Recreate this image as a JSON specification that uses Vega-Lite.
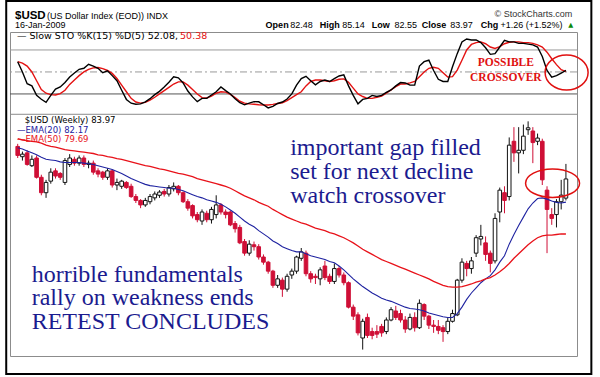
{
"$schema": "https://vega.github.io/schema/vega-lite/v6.json",
"width": 567, "height": 324,
"autosize": {"type": "none"},
"padding": {"left": 10, "top": 32, "right": 23, "bottom": 21},
"background": "white",
"config": {"view": {"stroke": "#8c8c8c", "strokeWidth": 1}, "axis": {"labelFont": "DejaVu Sans", "labelFontSize": 8.5, "labelColor": "#111", "domain": false}},
"data": {"values": [
{"d":"2006-10-23","o":86.5,"h":86.7,"l":85.6,"c":85.8,"e20":86.4,"e50":87.1,"k":64,"sd":64},
{"d":"2006-10-30","o":85.7,"h":86.1,"l":85.4,"c":85.9,"e20":86.3,"e50":87.0,"k":50,"sd":62},
{"d":"2006-11-06","o":86.0,"h":86.2,"l":85.0,"c":85.1,"e20":86.15,"e50":86.95,"k":34,"sd":58},
{"d":"2006-11-13","o":85.0,"h":85.8,"l":84.9,"c":85.5,"e20":86.0,"e50":86.9,"k":31,"sd":50},
{"d":"2006-11-20","o":85.6,"h":85.8,"l":84.0,"c":84.1,"e20":85.85,"e50":86.85,"k":18,"sd":38},
{"d":"2006-11-27","o":84.1,"h":84.3,"l":82.7,"c":82.9,"e20":85.65,"e50":86.75,"k":12.7,"sd":26},
{"d":"2006-12-04","o":82.9,"h":83.9,"l":82.5,"c":83.7,"e20":85.5,"e50":86.6,"k":8.6,"sd":21},
{"d":"2006-12-11","o":83.8,"h":84.8,"l":83.6,"c":84.5,"e20":85.45,"e50":86.5,"k":18,"sd":19},
{"d":"2006-12-18","o":84.6,"h":84.8,"l":84.0,"c":84.2,"e20":85.4,"e50":86.45,"k":26.5,"sd":18.6},
{"d":"2006-12-25","o":84.4,"h":84.5,"l":83.9,"c":84.1,"e20":85.3,"e50":86.35,"k":29.5,"sd":20.5},
{"d":"2007-01-01","o":83.7,"h":85.6,"l":83.5,"c":85.4,"e20":85.25,"e50":86.25,"k":35.5,"sd":25},
{"d":"2007-01-08","o":85.1,"h":85.9,"l":84.9,"c":85.6,"e20":85.25,"e50":86.2,"k":43,"sd":33},
{"d":"2007-01-15","o":85.5,"h":85.7,"l":85.0,"c":85.2,"e20":85.25,"e50":86.15,"k":48.5,"sd":39},
{"d":"2007-01-22","o":85.2,"h":85.8,"l":85.0,"c":85.6,"e20":85.25,"e50":86.1,"k":53.6,"sd":45},
{"d":"2007-01-29","o":85.6,"h":85.8,"l":84.9,"c":85.1,"e20":85.2,"e50":86.05,"k":55,"sd":50},
{"d":"2007-02-05","o":85.1,"h":85.4,"l":84.8,"c":85.2,"e20":85.15,"e50":86.0,"k":60.5,"sd":53.5},
{"d":"2007-02-12","o":85.2,"h":85.4,"l":84.3,"c":84.5,"e20":85.1,"e50":85.95,"k":58,"sd":55.5},
{"d":"2007-02-19","o":84.6,"h":84.8,"l":84.1,"c":84.35,"e20":85.0,"e50":85.85,"k":55,"sd":56},
{"d":"2007-02-26","o":84.5,"h":84.6,"l":83.9,"c":84.1,"e20":84.9,"e50":85.8,"k":49,"sd":54.5},
{"d":"2007-03-05","o":84.1,"h":84.8,"l":83.9,"c":84.6,"e20":84.8,"e50":85.7,"k":51.5,"sd":52},
{"d":"2007-03-12","o":84.6,"h":84.7,"l":83.3,"c":83.5,"e20":84.7,"e50":85.65,"k":45,"sd":48},
{"d":"2007-03-19","o":83.5,"h":84.0,"l":83.1,"c":83.7,"e20":84.55,"e50":85.55,"k":38,"sd":41},
{"d":"2007-03-26","o":83.4,"h":83.9,"l":83.2,"c":83.8,"e20":84.4,"e50":85.5,"k":25,"sd":32},
{"d":"2007-04-02","o":83.7,"h":83.8,"l":83.2,"c":83.3,"e20":84.2,"e50":85.4,"k":12.5,"sd":23},
{"d":"2007-04-09","o":83.4,"h":83.6,"l":82.5,"c":82.6,"e20":84.0,"e50":85.3,"k":7.4,"sd":14},
{"d":"2007-04-16","o":82.6,"h":82.8,"l":82.1,"c":82.3,"e20":83.85,"e50":85.2,"k":6,"sd":9},
{"d":"2007-04-23","o":82.3,"h":82.4,"l":81.7,"c":81.95,"e20":83.7,"e50":85.1,"k":6.4,"sd":7.5},
{"d":"2007-04-30","o":81.95,"h":82.5,"l":81.8,"c":82.3,"e20":83.55,"e50":85.0,"k":9.3,"sd":8.5},
{"d":"2007-05-07","o":82.2,"h":82.8,"l":82.0,"c":82.6,"e20":83.45,"e50":84.95,"k":13.5,"sd":11.5},
{"d":"2007-05-14","o":82.5,"h":83.0,"l":82.3,"c":82.8,"e20":83.4,"e50":84.85,"k":19,"sd":15.5},
{"d":"2007-05-21","o":82.7,"h":83.1,"l":82.5,"c":82.95,"e20":83.35,"e50":84.75,"k":23.5,"sd":20},
{"d":"2007-05-28","o":83.0,"h":83.2,"l":82.6,"c":82.8,"e20":83.3,"e50":84.7,"k":29.5,"sd":24.5},
{"d":"2007-06-04","o":82.8,"h":83.5,"l":82.6,"c":83.3,"e20":83.25,"e50":84.6,"k":36,"sd":29},
{"d":"2007-06-11","o":83.2,"h":83.7,"l":83.0,"c":83.4,"e20":83.25,"e50":84.5,"k":43.5,"sd":33.5},
{"d":"2007-06-18","o":83.4,"h":83.5,"l":82.7,"c":82.9,"e20":83.15,"e50":84.4,"k":42,"sd":36.5},
{"d":"2007-06-25","o":82.9,"h":83.0,"l":82.1,"c":82.2,"e20":83.05,"e50":84.35,"k":35,"sd":36.5},
{"d":"2007-07-02","o":82.2,"h":82.4,"l":81.5,"c":81.7,"e20":82.9,"e50":84.25,"k":24,"sd":32},
{"d":"2007-07-09","o":81.9,"h":82.0,"l":80.9,"c":81.1,"e20":82.75,"e50":84.15,"k":16,"sd":26},
{"d":"2007-07-16","o":81.2,"h":81.4,"l":80.6,"c":80.8,"e20":82.6,"e50":84.0,"k":9.5,"sd":20},
{"d":"2007-07-23","o":80.7,"h":81.6,"l":80.4,"c":81.4,"e20":82.5,"e50":83.9,"k":14,"sd":15},
{"d":"2007-07-30","o":81.3,"h":81.5,"l":80.6,"c":80.8,"e20":82.35,"e50":83.8,"k":14,"sd":14.5},
{"d":"2007-08-06","o":80.8,"h":81.8,"l":80.5,"c":81.6,"e20":82.25,"e50":83.7,"k":18.5,"sd":17},
{"d":"2007-08-13","o":81.2,"h":82.7,"l":80.9,"c":81.95,"e20":82.15,"e50":83.6,"k":23,"sd":21},
{"d":"2007-08-20","o":81.95,"h":82.1,"l":81.2,"c":81.4,"e20":82.0,"e50":83.5,"k":29.5,"sd":23},
{"d":"2007-08-27","o":81.4,"h":81.6,"l":80.9,"c":81.2,"e20":81.8,"e50":83.4,"k":24.5,"sd":22.5},
{"d":"2007-09-03","o":81.4,"h":81.5,"l":80.3,"c":80.4,"e20":81.55,"e50":83.25,"k":20,"sd":19.5},
{"d":"2007-09-10","o":80.5,"h":80.7,"l":79.8,"c":80.1,"e20":81.3,"e50":83.05,"k":13.5,"sd":15},
{"d":"2007-09-17","o":80.2,"h":80.4,"l":78.9,"c":79.0,"e20":81.0,"e50":82.85,"k":8,"sd":10},
{"d":"2007-09-24","o":79.1,"h":79.3,"l":78.0,"c":78.2,"e20":80.7,"e50":82.65,"k":5.2,"sd":7.5},
{"d":"2007-10-01","o":78.2,"h":79.2,"l":78.0,"c":78.9,"e20":80.45,"e50":82.5,"k":7.5,"sd":6.4},
{"d":"2007-10-08","o":78.85,"h":79.1,"l":78.4,"c":78.7,"e20":80.25,"e50":82.35,"k":9.5,"sd":6},
{"d":"2007-10-15","o":78.7,"h":78.9,"l":77.7,"c":77.9,"e20":79.95,"e50":82.15,"k":9.3,"sd":5.2},
{"d":"2007-10-22","o":77.9,"h":78.1,"l":77.3,"c":77.5,"e20":79.7,"e50":82.0,"k":5.3,"sd":5},
{"d":"2007-10-29","o":77.5,"h":77.6,"l":76.6,"c":76.8,"e20":79.45,"e50":81.85,"k":1,"sd":5},
{"d":"2007-11-05","o":76.8,"h":76.9,"l":75.5,"c":75.7,"e20":79.15,"e50":81.6,"k":3,"sd":5.8},
{"d":"2007-11-12","o":75.7,"h":76.5,"l":75.5,"c":76.2,"e20":78.95,"e50":81.4,"k":7,"sd":7},
{"d":"2007-11-19","o":76.1,"h":76.3,"l":74.8,"c":75.4,"e20":78.7,"e50":81.2,"k":9,"sd":8},
{"d":"2007-11-26","o":75.4,"h":76.6,"l":75.2,"c":76.4,"e20":78.55,"e50":81.0,"k":13,"sd":11},
{"d":"2007-12-03","o":76.5,"h":77.0,"l":76.2,"c":76.8,"e20":78.4,"e50":80.85,"k":20,"sd":15},
{"d":"2007-12-10","o":76.8,"h":78.0,"l":76.6,"c":77.9,"e20":78.3,"e50":80.7,"k":32,"sd":19},
{"d":"2007-12-17","o":77.8,"h":78.6,"l":77.6,"c":78.3,"e20":78.3,"e50":80.55,"k":41,"sd":23},
{"d":"2007-12-24","o":78.2,"h":78.4,"l":76.4,"c":76.6,"e20":78.15,"e50":80.45,"k":44,"sd":31},
{"d":"2007-12-31","o":76.6,"h":76.8,"l":75.9,"c":76.2,"e20":78.0,"e50":80.3,"k":38,"sd":37},
{"d":"2008-01-07","o":76.4,"h":76.6,"l":75.8,"c":76.3,"e20":77.9,"e50":80.15,"k":32.5,"sd":39},
{"d":"2008-01-14","o":76.2,"h":77.1,"l":75.7,"c":76.9,"e20":77.8,"e50":80.05,"k":37,"sd":39},
{"d":"2008-01-21","o":77.2,"h":77.6,"l":76.1,"c":76.3,"e20":77.7,"e50":79.95,"k":39,"sd":38},
{"d":"2008-01-28","o":76.4,"h":76.6,"l":75.8,"c":76.0,"e20":77.55,"e50":79.8,"k":37,"sd":37},
{"d":"2008-02-04","o":76.0,"h":77.4,"l":75.8,"c":77.0,"e20":77.45,"e50":79.7,"k":41,"sd":38},
{"d":"2008-02-11","o":77.0,"h":77.2,"l":76.3,"c":76.5,"e20":77.2,"e50":79.55,"k":44.5,"sd":40},
{"d":"2008-02-18","o":76.5,"h":76.7,"l":75.7,"c":75.9,"e20":76.9,"e50":79.4,"k":46,"sd":40.5},
{"d":"2008-02-25","o":75.9,"h":76.0,"l":73.9,"c":74.0,"e20":76.55,"e50":79.2,"k":31,"sd":36},
{"d":"2008-03-03","o":74.0,"h":74.2,"l":73.0,"c":73.3,"e20":76.2,"e50":79.0,"k":18,"sd":28},
{"d":"2008-03-10","o":73.4,"h":73.6,"l":71.8,"c":72.0,"e20":75.9,"e50":78.75,"k":6.5,"sd":20},
{"d":"2008-03-17","o":71.6,"h":73.1,"l":70.7,"c":72.9,"e20":75.6,"e50":78.5,"k":12.5,"sd":16.5},
{"d":"2008-03-24","o":73.2,"h":73.5,"l":71.6,"c":71.8,"e20":75.35,"e50":78.3,"k":14,"sd":14},
{"d":"2008-03-31","o":72.1,"h":72.4,"l":71.5,"c":71.8,"e20":75.1,"e50":78.1,"k":18,"sd":14},
{"d":"2008-04-07","o":72.1,"h":72.6,"l":71.6,"c":71.9,"e20":74.9,"e50":77.9,"k":16.5,"sd":15.5},
{"d":"2008-04-14","o":72.5,"h":72.7,"l":71.7,"c":72.0,"e20":74.7,"e50":77.7,"k":18,"sd":17},
{"d":"2008-04-21","o":72.1,"h":73.2,"l":71.9,"c":73.0,"e20":74.55,"e50":77.55,"k":22,"sd":21},
{"d":"2008-04-28","o":73.0,"h":74.0,"l":72.9,"c":73.8,"e20":74.45,"e50":77.4,"k":25.5,"sd":25.5},
{"d":"2008-05-05","o":73.7,"h":74.1,"l":73.0,"c":73.2,"e20":74.3,"e50":77.25,"k":31,"sd":30},
{"d":"2008-05-12","o":73.5,"h":73.8,"l":72.8,"c":73.0,"e20":74.15,"e50":77.1,"k":35.5,"sd":33.5},
{"d":"2008-05-19","o":73.0,"h":73.3,"l":72.0,"c":72.3,"e20":74.0,"e50":76.95,"k":35,"sd":33.6},
{"d":"2008-05-26","o":72.3,"h":73.5,"l":72.2,"c":73.2,"e20":73.9,"e50":76.8,"k":32,"sd":35},
{"d":"2008-06-02","o":73.2,"h":73.6,"l":72.1,"c":72.4,"e20":73.85,"e50":76.65,"k":32,"sd":37},
{"d":"2008-06-09","o":72.4,"h":74.6,"l":72.3,"c":74.3,"e20":73.8,"e50":76.5,"k":58,"sd":43.6},
{"d":"2008-06-16","o":74.2,"h":74.3,"l":73.0,"c":73.3,"e20":73.7,"e50":76.35,"k":64,"sd":50},
{"d":"2008-06-23","o":73.3,"h":73.4,"l":72.3,"c":72.6,"e20":73.55,"e50":76.2,"k":66,"sd":55},
{"d":"2008-06-30","o":72.6,"h":73.0,"l":72.0,"c":72.5,"e20":73.45,"e50":76.0,"k":52,"sd":56.4},
{"d":"2008-07-07","o":72.5,"h":73.0,"l":71.9,"c":72.2,"e20":73.35,"e50":75.85,"k":40,"sd":55},
{"d":"2008-07-14","o":72.4,"h":72.6,"l":71.3,"c":72.1,"e20":73.25,"e50":75.7,"k":37,"sd":49},
{"d":"2008-07-21","o":72.1,"h":73.2,"l":71.9,"c":72.9,"e20":73.2,"e50":75.6,"k":37,"sd":43},
{"d":"2008-07-28","o":72.9,"h":73.8,"l":72.8,"c":73.5,"e20":73.2,"e50":75.55,"k":57,"sd":43.6},
{"d":"2008-08-04","o":73.4,"h":76.2,"l":73.3,"c":76.1,"e20":73.5,"e50":75.55,"k":75,"sd":52.5},
{"d":"2008-08-11","o":76.1,"h":77.8,"l":75.9,"c":77.5,"e20":74.0,"e50":75.6,"k":91,"sd":66},
{"d":"2008-08-18","o":77.4,"h":77.6,"l":76.4,"c":77.0,"e20":74.6,"e50":75.7,"k":95,"sd":80},
{"d":"2008-08-25","o":77.0,"h":77.9,"l":76.6,"c":77.6,"e20":75.1,"e50":75.8,"k":93.6,"sd":87.5},
{"d":"2008-09-01","o":78.2,"h":79.6,"l":77.9,"c":79.4,"e20":75.5,"e50":75.95,"k":93.6,"sd":90},
{"d":"2008-09-08","o":79.3,"h":80.4,"l":78.8,"c":79.5,"e20":75.9,"e50":76.05,"k":90,"sd":91},
{"d":"2008-09-15","o":79.0,"h":79.5,"l":77.6,"c":78.1,"e20":76.2,"e50":76.2,"k":83,"sd":88.5},
{"d":"2008-09-22","o":78.2,"h":78.4,"l":76.7,"c":77.4,"e20":76.45,"e50":76.3,"k":74,"sd":84},
{"d":"2008-09-29","o":77.6,"h":81.3,"l":77.4,"c":80.9,"e20":76.9,"e50":76.5,"k":75,"sd":82},
{"d":"2008-10-06","o":81.4,"h":83.3,"l":80.6,"c":83.1,"e20":77.5,"e50":76.75,"k":84,"sd":84.5},
{"d":"2008-10-13","o":82.9,"h":83.4,"l":81.3,"c":82.3,"e20":78.0,"e50":77.05,"k":93,"sd":88.5},
{"d":"2008-10-20","o":82.6,"h":87.2,"l":82.3,"c":86.6,"e20":78.9,"e50":77.4,"k":91,"sd":90.5},
{"d":"2008-10-27","o":86.9,"h":88.0,"l":85.3,"c":86.0,"e20":79.65,"e50":77.8,"k":91,"sd":91},
{"d":"2008-11-03","o":86.0,"h":88.0,"l":84.4,"c":86.2,"e20":80.35,"e50":78.15,"k":89,"sd":91},
{"d":"2008-11-10","o":86.2,"h":88.2,"l":85.9,"c":87.3,"e20":81.0,"e50":78.5,"k":89,"sd":90},
{"d":"2008-11-17","o":87.8,"h":88.45,"l":87.4,"c":87.95,"e20":81.65,"e50":78.85,"k":88,"sd":90},
{"d":"2008-11-24","o":87.7,"h":88.0,"l":85.2,"c":86.8,"e20":82.1,"e50":79.15,"k":87,"sd":89},
{"d":"2008-12-01","o":86.9,"h":87.5,"l":86.6,"c":87.15,"e20":82.45,"e50":79.4,"k":84,"sd":87},
{"d":"2008-12-08","o":86.9,"h":87.1,"l":83.5,"c":83.9,"e20":82.5,"e50":79.55,"k":71,"sd":84},
{"d":"2008-12-15","o":83.1,"h":83.4,"l":78.2,"c":81.6,"e20":82.4,"e50":79.6,"k":52,"sd":77},
{"d":"2008-12-22","o":81.2,"h":81.7,"l":80.4,"c":80.9,"e20":82.25,"e50":79.6,"k":43,"sd":68},
{"d":"2008-12-29","o":81.2,"h":82.4,"l":80.2,"c":82.2,"e20":82.15,"e50":79.65,"k":45,"sd":60},
{"d":"2009-01-05","o":82.2,"h":83.9,"l":81.6,"c":82.71,"e20":82.1,"e50":79.7,"k":48.5,"sd":53},
{"d":"2009-01-12","o":82.48,"h":85.14,"l":82.3,"c":83.97,"e20":82.17,"e50":79.69,"k":52.08,"sd":50.38}
]},
"layer": [
{"layer": [
 {"data": {"values": [{}]}, "mark": {"type": "rect", "filled": false, "color": "black", "strokeWidth": 2},
  "encoding": {"x": {"datum": {"year":2006,"month":10,"date":6}, "type": "temporal", "scale": {"domain": [{"year":2006,"month":10,"date":19},{"year":2009,"month":1,"date":21}]}, "axis": null},
   "x2": {"datum": {"year":2009,"month":2,"date":18,"hours":16}},
   "y": {"datum": 146.8, "type": "quantitative", "scale": {"domain": [-337.5, 104.5], "zero": false, "nice": false}, "axis": null},
   "y2": {"datum": -362}}},
 {"data": {"values": [{"lv": 80}, {"lv": 50}, {"lv": 20}]}, "mark": {"type": "rule", "strokeWidth": 1},
  "encoding": {"y": {"field": "lv", "type": "quantitative", "scale": {"domain": [-337.5, 104.5], "zero": false, "nice": false}, "axis": null},
   "color": {"condition": {"test": "datum.lv == 20", "value": "#555555"}, "value": "#9a9a9a"},
   "strokeDash": {"condition": {"test": "datum.lv == 50", "value": [7, 3, 2, 3]}, "value": [1, 0]}}},
 {"mark": {"type": "line", "color": "#e41212", "strokeWidth": 1.4},
  "encoding": {"x": {"field": "d", "type": "temporal", "scale": {"domain": [{"year":2006,"month":10,"date":19},{"year":2009,"month":1,"date":21}]}, "axis": null},
   "y": {"field": "sd", "type": "quantitative", "scale": {"domain": [-337.5, 104.5], "zero": false, "nice": false}, "axis": null}}},
 {"mark": {"type": "line", "color": "black", "strokeWidth": 1.4},
  "encoding": {"x": {"field": "d", "type": "temporal", "scale": {"domain": [{"year":2006,"month":10,"date":19},{"year":2009,"month":1,"date":21}]}, "axis": null},
   "y": {"field": "k", "type": "quantitative", "scale": {"domain": [-337.5, 104.5], "zero": false, "nice": false},
    "axis": {"orient": "right", "values": [20, 50, 80], "grid": false, "ticks": false, "labelPadding": 4, "domain": false, "title": null}}}},
 {"data": {"values": [{}]}, "mark": {"type": "point", "shape": "M -1 0 C -1 -0.447 -0.552 -0.81 0 -0.81 C 0.552 -0.81 1 -0.447 1 0 C 1 0.447 0.552 0.81 0 0.81 C -0.552 0.81 -1 0.447 -1 0 Z", "size": 1849, "filled": false, "color": "#e01010", "strokeWidth": 1.5, "opacity": 1},
  "encoding": {"x": {"datum": {"year":2009,"month":1,"date":13}, "type": "temporal", "axis": null},
   "y": {"datum": 49.25, "type": "quantitative", "axis": null}}},
 {"data": {"values": [{}]}, "mark": {"type": "text", "text": ["POSSIBLE", "CROSSOVER"], "font": "Liberation Serif", "fontSize": 11.5, "fontWeight": "bold", "color": "#e01010", "align": "center", "baseline": "alphabetic", "lineHeight": 14.5},
  "encoding": {"x": {"datum": {"year":2008,"month":10,"date":15}, "type": "temporal", "axis": null},
   "y": {"datum": 58.1, "type": "quantitative", "axis": null}}},
 {"data": {"values": [{}]}, "mark": {"type": "text", "text": "$USD", "font": "Liberation Sans", "fontSize": 11.5, "fontWeight": "bold", "color": "black", "align": "left", "baseline": "alphabetic"},
  "encoding": {"x": {"datum": {"year":2006,"month":10,"date":19}, "type": "temporal", "axis": null},
   "y": {"datum": 122.2, "type": "quantitative", "axis": null}}},
 {"data": {"values": [{}]}, "mark": {"type": "text", "text": "(US Dollar Index (EOD)) INDX", "font": "Liberation Sans", "fontSize": 9, "color": "black", "align": "left", "baseline": "alphabetic"},
  "encoding": {"x": {"datum": {"year":2006,"month":12,"date":5,"hours":12}, "type": "temporal", "axis": null},
   "y": {"datum": 122.2, "type": "quantitative", "axis": null}}},
 {"data": {"values": [{}]}, "mark": {"type": "text", "text": "16-Jan-2009", "font": "Liberation Sans", "fontSize": 9, "color": "black", "align": "left", "baseline": "alphabetic"},
  "encoding": {"x": {"datum": {"year":2006,"month":10,"date":19}, "type": "temporal", "axis": null},
   "y": {"datum": 109.96, "type": "quantitative", "axis": null}}},
 {"data": {"values": [{}]}, "mark": {"type": "text", "text": "© StockCharts.com", "font": "Liberation Sans", "fontSize": 9, "color": "#333333", "align": "right", "baseline": "alphabetic"},
  "encoding": {"x": {"datum": {"year":2009,"month":1,"date":21,"hours":7}, "type": "temporal", "axis": null},
   "y": {"datum": 124.96, "type": "quantitative", "axis": null}}},
 {"data": {"values": [{}]}, "mark": {"type": "text", "text": "Open", "font": "Liberation Sans", "fontSize": 9, "fontWeight": "bold", "color": "black", "align": "left", "baseline": "alphabetic"},
  "encoding": {"x": {"datum": {"year":2007,"month":10,"date":25,"hours":5}, "type": "temporal", "axis": null}, "y": {"datum": 109.96, "type": "quantitative", "axis": null}}},
 {"data": {"values": [{}]}, "mark": {"type": "text", "text": "82.48", "font": "Liberation Sans", "fontSize": 9, "color": "black", "align": "left", "baseline": "alphabetic"},
  "encoding": {"x": {"datum": {"year":2007,"month":11,"date":30,"hours":14}, "type": "temporal", "axis": null}, "y": {"datum": 109.96, "type": "quantitative", "axis": null}}},
 {"data": {"values": [{}]}, "mark": {"type": "text", "text": "High", "font": "Liberation Sans", "fontSize": 9, "fontWeight": "bold", "color": "black", "align": "left", "baseline": "alphabetic"},
  "encoding": {"x": {"datum": {"year":2008,"month":1,"date":13,"hours":5}, "type": "temporal", "axis": null}, "y": {"datum": 109.96, "type": "quantitative", "axis": null}}},
 {"data": {"values": [{}]}, "mark": {"type": "text", "text": "85.14", "font": "Liberation Sans", "fontSize": 9, "color": "black", "align": "left", "baseline": "alphabetic"},
  "encoding": {"x": {"datum": {"year":2008,"month":2,"date":15,"hours":17}, "type": "temporal", "axis": null}, "y": {"datum": 109.96, "type": "quantitative", "axis": null}}},
 {"data": {"values": [{}]}, "mark": {"type": "text", "text": "Low", "font": "Liberation Sans", "fontSize": 9, "fontWeight": "bold", "color": "black", "align": "left", "baseline": "alphabetic"},
  "encoding": {"x": {"datum": {"year":2008,"month":3,"date":30,"hours":10}, "type": "temporal", "axis": null}, "y": {"datum": 109.96, "type": "quantitative", "axis": null}}},
 {"data": {"values": [{}]}, "mark": {"type": "text", "text": "82.55", "font": "Liberation Sans", "fontSize": 9, "color": "black", "align": "left", "baseline": "alphabetic"},
  "encoding": {"x": {"datum": {"year":2008,"month":5,"date":2,"hours":22}, "type": "temporal", "axis": null}, "y": {"datum": 109.96, "type": "quantitative", "axis": null}}},
 {"data": {"values": [{}]}, "mark": {"type": "text", "text": "Close", "font": "Liberation Sans", "fontSize": 9, "fontWeight": "bold", "color": "black", "align": "left", "baseline": "alphabetic"},
  "encoding": {"x": {"datum": {"year":2008,"month":6,"date":12,"hours":14}, "type": "temporal", "axis": null}, "y": {"datum": 109.96, "type": "quantitative", "axis": null}}},
 {"data": {"values": [{}]}, "mark": {"type": "text", "text": "83.97", "font": "Liberation Sans", "fontSize": 9, "color": "black", "align": "left", "baseline": "alphabetic"},
  "encoding": {"x": {"datum": {"year":2008,"month":7,"date":24,"hours":19}, "type": "temporal", "axis": null}, "y": {"datum": 109.96, "type": "quantitative", "axis": null}}},
 {"data": {"values": [{}]}, "mark": {"type": "text", "text": "Chg", "font": "Liberation Sans", "fontSize": 9, "fontWeight": "bold", "color": "black", "align": "left", "baseline": "alphabetic"},
  "encoding": {"x": {"datum": {"year":2008,"month":9,"date":7,"hours":23}, "type": "temporal", "axis": null}, "y": {"datum": 109.96, "type": "quantitative", "axis": null}}},
 {"data": {"values": [{}]}, "mark": {"type": "text", "text": "+1.26 (+1.52%)", "font": "Liberation Sans", "fontSize": 9, "color": "black", "align": "left", "baseline": "alphabetic"},
  "encoding": {"x": {"datum": {"year":2008,"month":10,"date":7,"hours":2}, "type": "temporal", "axis": null}, "y": {"datum": 109.96, "type": "quantitative", "axis": null}}},
 {"data": {"values": [{}]}, "mark": {"type": "text", "text": "▲", "font": "DejaVu Sans", "fontSize": 6.5, "color": "#0a8a0a", "align": "left", "baseline": "alphabetic"},
  "encoding": {"x": {"datum": {"year":2009,"month":1,"date":15,"hours":12}, "type": "temporal", "axis": null}, "y": {"datum": 111.3, "type": "quantitative", "axis": null}}},
 {"data": {"values": [{}]}, "mark": {"type": "text", "text": "— Slow STO %K(15) %D(5) 52.08,", "font": "DejaVu Sans", "fontSize": 9.5, "color": "black", "align": "left", "baseline": "alphabetic"},
  "encoding": {"x": {"datum": {"year":2006,"month":10,"date":22}, "type": "temporal", "axis": null}, "y": {"datum": 94.95, "type": "quantitative", "axis": null}}},
 {"data": {"values": [{}]}, "mark": {"type": "text", "text": "50.38", "font": "DejaVu Sans", "fontSize": 9.5, "color": "#e41212", "align": "left", "baseline": "alphabetic"},
  "encoding": {"x": {"datum": {"year":2007,"month":6,"date":20,"hours":12}, "type": "temporal", "axis": null}, "y": {"datum": 94.95, "type": "quantitative", "axis": null}}}
]},
{"layer": [
 {"data": {"values": [{}]}, "mark": {"type": "rule", "color": "#8c8c8c", "strokeWidth": 1},
  "encoding": {"y": {"datum": 89.0, "type": "quantitative", "scale": {"domain": [70.2, 95.4], "zero": false, "nice": false}, "axis": null}}},
 {"mark": {"type": "rule", "strokeWidth": 1},
  "encoding": {"x": {"field": "d", "type": "temporal", "scale": {"domain": [{"year":2006,"month":10,"date":19},{"year":2009,"month":1,"date":21}]},
    "axis": {"values": [{"year":2006,"month":11,"date":6},{"year":2006,"month":12,"date":4},{"year":2007,"month":1,"date":1},{"year":2007,"month":2,"date":5},{"year":2007,"month":3,"date":5},{"year":2007,"month":4,"date":2},{"year":2007,"month":5,"date":7},{"year":2007,"month":6,"date":4},{"year":2007,"month":7,"date":2},{"year":2007,"month":8,"date":6},{"year":2007,"month":9,"date":3},{"year":2007,"month":10,"date":1},{"year":2007,"month":11,"date":5},{"year":2007,"month":12,"date":3},{"year":2008,"month":1,"date":7},{"year":2008,"month":2,"date":4},{"year":2008,"month":3,"date":3},{"year":2008,"month":4,"date":7},{"year":2008,"month":5,"date":5},{"year":2008,"month":6,"date":2},{"year":2008,"month":7,"date":7},{"year":2008,"month":8,"date":4},{"year":2008,"month":9,"date":1},{"year":2008,"month":10,"date":6},{"year":2008,"month":11,"date":3},{"year":2008,"month":12,"date":1},{"year":2009,"month":1,"date":5}],
     "labelExpr": "month(datum.value) == 0 ? timeFormat(datum.value, '%y') : slice(timeFormat(datum.value, '%b'), 0, 1)",
     "labelFontWeight": {"condition": {"test": "month(datum.value) == 0", "value": "bold"}, "value": "normal"},
     "grid": true,
     "gridColor": {"condition": {"test": "month(datum.value) == 0", "value": "#a8a8a8"}, "value": "#d6d6d6"},
     "gridDash": {"condition": {"test": "month(datum.value) == 0", "value": [1, 0]}, "value": [2, 2]},
     "tickSize": 4, "tickColor": "#8c8c8c", "labelPadding": 2, "domain": false, "title": null, "labelOverlap": false, "labelFlush": false, "labelBound": false}},
   "y": {"field": "l", "type": "quantitative", "scale": {"domain": [70.2, 95.4], "zero": false, "nice": false},
    "axis": {"orient": "right", "values": [71,72,73,74,75,76,77,78,79,80,81,82,83,84,85,86,87,88], "grid": true, "gridColor": "#d6d6d6", "gridDash": [2, 2], "ticks": false, "labelPadding": 4, "domain": false, "title": null}},
   "y2": {"field": "h"},
   "color": {"condition": {"test": "datum.c < datum.o", "value": "#cf0f36"}, "value": "#111111"}}},
 {"mark": {"type": "bar", "size": 3.6, "strokeWidth": 1},
  "encoding": {"x": {"field": "d", "type": "temporal", "axis": null},
   "y": {"field": "o", "type": "quantitative", "axis": null},
   "y2": {"field": "c"},
   "fill": {"condition": {"test": "datum.c < datum.o", "value": "#cf0f36"}, "value": "white"},
   "stroke": {"condition": {"test": "datum.c < datum.o", "value": "#cf0f36"}, "value": "#111111"}}},
 {"mark": {"type": "line", "color": "#1e22a0", "strokeWidth": 1.1},
  "encoding": {"x": {"field": "d", "type": "temporal", "axis": null},
   "y": {"field": "e20", "type": "quantitative", "axis": null}}},
 {"mark": {"type": "line", "color": "#e8121a", "strokeWidth": 1.3},
  "encoding": {"x": {"field": "d", "type": "temporal", "axis": null},
   "y": {"field": "e50", "type": "quantitative", "axis": null}}},
 {"data": {"values": [{}]}, "mark": {"type": "point", "shape": "M -1 0 C -1 -0.29 -0.552 -0.525 0 -0.525 C 0.552 -0.525 1 -0.29 1 0 C 1 0.29 0.552 0.525 0 0.525 C -0.552 0.525 -1 0.29 -1 0 Z", "size": 2916, "filled": false, "color": "#e01010", "strokeWidth": 1.5, "opacity": 1},
  "encoding": {"x": {"datum": {"year":2008,"month":12,"date":23,"hours":5}, "type": "temporal", "axis": null},
   "y": {"datum": 83.64, "type": "quantitative", "axis": null}}},
 {"data": {"values": [{}]}, "mark": {"type": "text", "text": ["important gap filled", "set for next decline", "watch crossover"], "font": "Liberation Serif", "fontSize": 24, "color": "#1b1b8f", "align": "left", "baseline": "alphabetic", "lineHeight": 24},
  "encoding": {"x": {"datum": {"year":2007,"month":11,"date":30,"hours":14}, "type": "temporal", "axis": null},
   "y": {"datum": 85.83, "type": "quantitative", "axis": null}}},
 {"data": {"values": [{}]}, "mark": {"type": "text", "text": ["horrible fundamentals", "rally on weakness ends", "RETEST CONCLUDES"], "font": "Liberation Serif", "fontSize": 24, "color": "#1b1b8f", "align": "left", "baseline": "alphabetic", "lineHeight": 23.5},
  "encoding": {"x": {"datum": {"year":2006,"month":11,"date":12,"hours":17}, "type": "temporal", "axis": null},
   "y": {"datum": 75.98, "type": "quantitative", "axis": null}}},
 {"data": {"values": [{}]}, "mark": {"type": "text", "text": "$USD (Weekly) 83.97", "font": "DejaVu Sans", "fontSize": 8.5, "color": "black", "align": "left", "baseline": "alphabetic"},
  "encoding": {"x": {"datum": {"year":2006,"month":11,"date":2,"hours":14}, "type": "temporal", "axis": null},
   "y": {"datum": 88.32, "type": "quantitative", "axis": null}}},
 {"data": {"values": [{}]}, "mark": {"type": "text", "text": "—EMA(20) 82.17", "font": "DejaVu Sans", "fontSize": 8.5, "color": "#1e22a0", "align": "left", "baseline": "alphabetic"},
  "encoding": {"x": {"datum": {"year":2006,"month":10,"date":21,"hours":22}, "type": "temporal", "axis": null},
   "y": {"datum": 87.58, "type": "quantitative", "axis": null}}},
 {"data": {"values": [{}]}, "mark": {"type": "text", "text": "—EMA(50) 79.69", "font": "DejaVu Sans", "fontSize": 8.5, "color": "#e8121a", "align": "left", "baseline": "alphabetic"},
  "encoding": {"x": {"datum": {"year":2006,"month":10,"date":21,"hours":22}, "type": "temporal", "axis": null},
   "y": {"datum": 86.84, "type": "quantitative", "axis": null}}}
]}
],
"resolve": {"scale": {"y": "independent"}}
}
